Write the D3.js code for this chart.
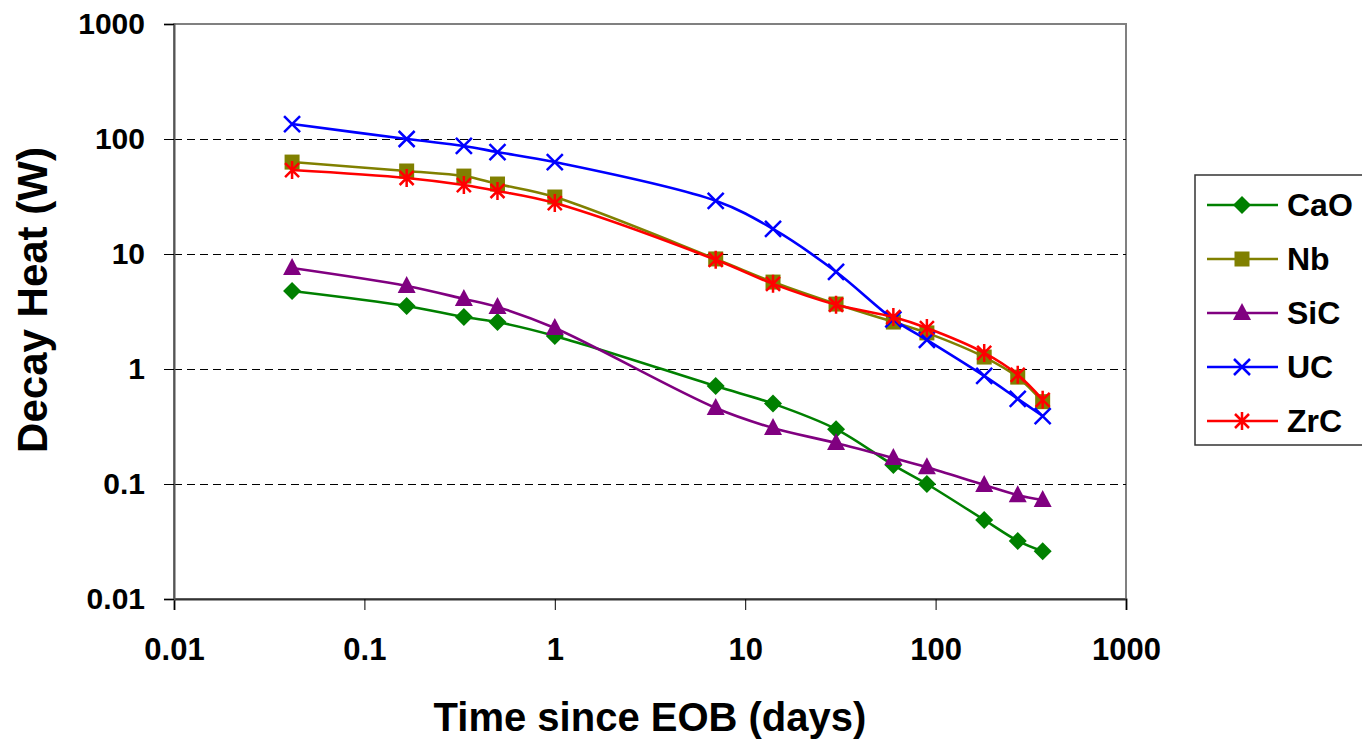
<!DOCTYPE html>
<html>
<head>
<meta charset="utf-8">
<script src="https://cdn.jsdelivr.net/npm/d3@7"></script>
<style>
  body { margin: 0; background: #fff; }
  text { font-family: Arial, "Liberation Sans", sans-serif; font-weight: bold; }
</style>
</head>
<body>
<svg id="chart"></svg>
<script>
const width = 1362;
const height = 740;
const margin = { top: 24, right: 236, bottom: 141, left: 174 };

// days since end of bombardment
const days = [0.0417, 0.1667, 0.333, 0.5, 1, 7, 14, 30, 60, 90, 180, 270, 365];

const cao = [4.77, 3.53, 2.83, 2.56, 1.94, 0.71, 0.50, 0.30, 0.146, 0.10, 0.0487, 0.032, 0.026];
const nb  = [63, 52.7, 47.6, 40.6, 31.3, 9.06, 5.7, 3.67, 2.56, 2.06, 1.27, 0.85, 0.52];
const sic = [7.55, 5.27, 4.07, 3.46, 2.27, 0.458, 0.307, 0.227, 0.168, 0.14, 0.098, 0.08, 0.0726];
const uc  = [135, 100, 87, 77, 63, 29, 16.5, 7.0, 2.7, 1.79, 0.87, 0.55, 0.39];
const zrc = [53.7, 45.8, 39.8, 35.3, 27.7, 8.9, 5.5, 3.62, 2.83, 2.27, 1.38, 0.89, 0.54];

const seriesNames = ["CaO", "Nb", "SiC", "UC", "ZrC"];
const seriesValues = [cao, nb, sic, uc, zrc];
const seriesColors = ["#008000", "#808000", "#800080", "#0000ff", "#ff0000"];
const seriesMarkers = ["diamond", "square", "triangle", "cross", "star"];

const xTicks = [0.01, 0.1, 1, 10, 100, 1000];
const yTicks = [0.01, 0.1, 1, 10, 100, 1000];

const svg = d3.select("#chart")
    .attr("width", width)
    .attr("height", height);

const x = d3.scaleLog()
    .domain([0.01, 1000])
    .range([margin.left, width - margin.right]);

const y = d3.scaleLog()
    .domain([0.01, 1000])
    .range([height - margin.bottom, margin.top]);

// plot area frame
svg.append("rect")
    .attr("x", x(0.01)).attr("y", y(1000))
    .attr("width", x(1000) - x(0.01))
    .attr("height", y(0.01) - y(1000))
    .attr("fill", "none")
    .attr("stroke", "#808080")
    .attr("stroke-width", 2);

// gridlines
svg.append("g")
    .selectAll("line")
    .data(yTicks.slice(1, -1))
    .join("line")
    .attr("x1", x(0.01)).attr("x2", x(1000))
    .attr("y1", d => Math.round(y(d)) + 0.5).attr("y2", d => Math.round(y(d)) + 0.5)
    .attr("stroke", "#000")
    .attr("stroke-dasharray", "8,5")
    .attr("stroke-width", 1.2);

// axes
const xAxis = svg.append("g")
    .attr("transform", `translate(0, ${y(0.01)})`)
    .call(d3.axisBottom(x).tickValues(xTicks).tickFormat(d3.format("~g")).tickSize(11).tickPadding(28));
xAxis.select(".domain").attr("stroke", "#333").attr("stroke-width", 2);
xAxis.selectAll(".tick line").attr("stroke", "#000");
xAxis.selectAll("text").style("font-size", "31px").attr("fill", "#000");

const yAxis = svg.append("g")
    .attr("transform", `translate(${x(0.01)}, 0)`)
    .call(d3.axisLeft(y).tickValues(yTicks).tickFormat(d3.format("~g")).tickSize(10).tickPadding(19));
yAxis.select(".domain").attr("stroke", "#555").attr("stroke-width", 2);
yAxis.selectAll(".tick line").attr("stroke", "#000");
yAxis.selectAll("text").style("font-size", "30px").attr("fill", "#000");

// axis titles
svg.append("text")
    .attr("x", (x(0.01) + x(1000)) / 2)
    .attr("y", 731)
    .attr("text-anchor", "middle")
    .style("font-size", "40px")
    .text("Time since EOB (days)");

svg.append("text")
    .attr("transform", "rotate(-90)")
    .attr("x", -300)
    .attr("y", 47)
    .attr("text-anchor", "middle")
    .style("font-size", "42px")
    .text("Decay Heat (W)");

// marker drawing
function drawMarker(g, type, color) {
    if (type === "diamond") {
        g.append("path").attr("d", "M0,-9L9,0L0,9L-9,0Z").attr("fill", color);
    } else if (type === "square") {
        g.append("rect").attr("x", -7.5).attr("y", -7.5).attr("width", 15).attr("height", 15).attr("fill", color);
    } else if (type === "triangle") {
        g.append("path").attr("d", "M0,-10L9,7L-9,7Z").attr("fill", color);
    } else if (type === "cross") {
        g.append("path").attr("d", "M-8,-8L8,8M-8,8L8,-8")
            .attr("stroke", color).attr("stroke-width", 2.5).attr("fill", "none");
    } else if (type === "star") {
        g.append("path").attr("d", "M-7,-7L7,7M-7,7L7,-7M0,-9L0,9")
            .attr("stroke", color).attr("stroke-width", 2.5).attr("fill", "none");
    }
}

const line = d3.line()
    .x(d => x(d[0]))
    .y(d => y(d[1]))
    .curve(d3.curveCatmullRom.alpha(0.5));

seriesNames.forEach((name, i) => {
    const pts = days.map((t, j) => [t, seriesValues[i][j]]);
    svg.append("path")
        .datum(pts)
        .attr("d", line)
        .attr("fill", "none")
        .attr("stroke", seriesColors[i])
        .attr("stroke-width", 2.6);

    pts.forEach(p => {
        const g = svg.append("g").attr("transform", `translate(${x(p[0])}, ${y(p[1])})`);
        drawMarker(g, seriesMarkers[i], seriesColors[i]);
    });
});

// legend
const legend = svg.append("g").attr("transform", "translate(1195, 175)");

legend.append("rect")
    .attr("width", 180)
    .attr("height", 270)
    .attr("fill", "#fff")
    .attr("stroke", "#333")
    .attr("stroke-width", 1.5);

seriesNames.forEach((name, i) => {
    const ly = 30 + i * 54;
    legend.append("line")
        .attr("x1", 12).attr("x2", 83)
        .attr("y1", ly).attr("y2", ly)
        .attr("stroke", seriesColors[i])
        .attr("stroke-width", 2.6);
    const g = legend.append("g").attr("transform", `translate(47, ${ly})`);
    drawMarker(g, seriesMarkers[i], seriesColors[i]);
    legend.append("text")
        .attr("x", 92)
        .attr("y", ly + 11)
        .style("font-size", "32px")
        .text(name);
});
</script>
</body>
</html>
